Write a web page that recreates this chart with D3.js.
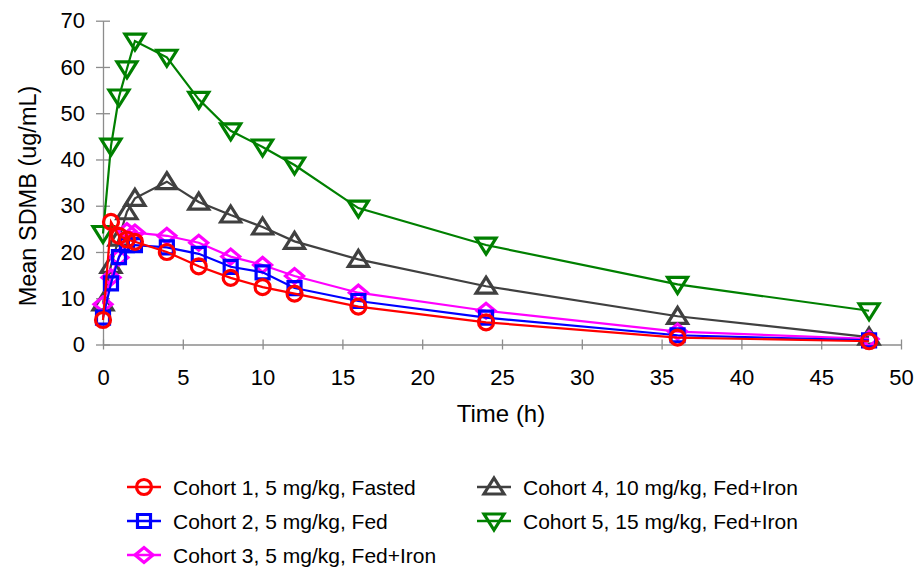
<!DOCTYPE html>
<html>
<head>
<meta charset="utf-8">
<script src="https://cdn.jsdelivr.net/npm/d3@7"></script>
<style>
  body { margin: 0; background: #fff; }
  svg { font-family: "Liberation Sans", Arial, sans-serif; }
</style>
</head>
<body>
<svg id="chart" width="921" height="576"></svg>
<script>
// sampling times (h)
const times = [0, 0.5, 1, 1.5, 2, 4, 6, 8, 10, 12, 16, 24, 36, 48];

// mean SDMB (ug/mL) per cohort
const cohort1 = [5.3, 26.5, 23.5, 22.7, 22.2, 20.0, 16.9, 14.4, 12.4, 11.0, 8.2, 4.8, 1.5, 0.7];
const cohort2 = [5.8, 13.2, 18.9, 21.5, 21.5, 21.0, 19.6, 16.8, 15.6, 12.2, 9.4, 5.8, 2.0, 0.9];
const cohort3 = [8.7, 14.5, 18.8, 24.5, 24.2, 23.5, 22.0, 19.0, 17.2, 14.8, 11.2, 7.3, 2.8, 1.2];
const cohort4 = [9.0, 17.1, 23.0, 28.7, 31.6, 35.2, 30.8, 28.0, 25.4, 22.3, 18.4, 12.6, 6.1, 1.6];
const cohort5 = [24.0, 42.9, 53.5, 59.6, 65.6, 62.1, 53.0, 46.2, 42.7, 38.8, 29.5, 21.5, 13.0, 7.3];

const seriesNames = [
  "Cohort 1, 5 mg/kg, Fasted",
  "Cohort 2, 5 mg/kg, Fed",
  "Cohort 3, 5 mg/kg, Fed+Iron",
  "Cohort 4, 10 mg/kg, Fed+Iron",
  "Cohort 5, 15 mg/kg, Fed+Iron"
];
const seriesValues = [cohort1, cohort2, cohort3, cohort4, cohort5];
const seriesColors = ["#ff0000", "#0000ff", "#ff00ff", "#404040", "#008000"];
const seriesMarks = ["circle", "square", "diamond", "triUp", "triDown"];

const xTicks = [0, 5, 10, 15, 20, 25, 30, 35, 40, 45, 50];
const yTicks = [0, 10, 20, 30, 40, 50, 60, 70];

const svg = d3.select("#chart");

const x = d3.scaleLinear().domain([0, 50]).range([103, 901]);
const y = d3.scaleLinear().domain([0, 70]).range([344.5, 20.7]);

// marker shapes, centred on 0,0
function markPath(kind) {
  switch (kind) {
    case "square":  return "M-6.5,-6.5H6.5V6.5H-6.5Z";
    case "diamond": return "M-9,0L0,-7.5L9,0L0,7.5Z";
    case "triUp":   return "M0,-9L10,7L-10,7Z";
    case "triDown": return "M0,9L10,-7L-10,-7Z";
  }
  return null;
}

function drawMark(g, kind, color, cx, cy) {
  if (kind === "circle") {
    g.append("circle")
      .attr("cx", cx).attr("cy", cy).attr("r", 7.5)
      .attr("fill", "none").attr("stroke", color).attr("stroke-width", 3.2);
  } else {
    g.append("path")
      .attr("d", markPath(kind))
      .attr("transform", "translate(" + cx + "," + cy + ")")
      .attr("fill", "none").attr("stroke", color).attr("stroke-width", 3.2)
      .attr("stroke-linejoin", "miter");
  }
}

// axes
const axisColor = "#8c8c8c";
const xAxis = d3.axisBottom(x).tickValues(xTicks).tickSizeInner(5).tickSizeOuter(0).tickPadding(20);
const yAxis = d3.axisLeft(y).tickValues(yTicks).tickSizeInner(7).tickSizeOuter(0).tickPadding(11);

const gx = svg.append("g").attr("transform", "translate(0," + y(0) + ")").call(xAxis);
const gy = svg.append("g").attr("transform", "translate(" + x(0) + ",0)").call(yAxis);

[gx, gy].forEach(g => {
  g.select(".domain").attr("stroke", axisColor).attr("stroke-width", 1.3);
  g.selectAll(".tick line").attr("stroke", axisColor).attr("stroke-width", 1.3);
  g.selectAll(".tick text").attr("fill", "#000").attr("font-size", 22)
    .attr("font-family", "Liberation Sans, Arial, sans-serif");
});
// ticks cross the axis lines
gx.selectAll(".tick line").attr("y1", -5).attr("y2", 5);
gy.selectAll(".tick line").attr("x1", -7).attr("x2", 7);

// axis titles
svg.append("text")
  .attr("x", 501).attr("y", 422)
  .attr("text-anchor", "middle").attr("font-size", 24)
  .text("Time (h)");

svg.append("text")
  .attr("transform", "translate(36,196) rotate(-90)")
  .attr("text-anchor", "middle").attr("font-size", 23.5)
  .text("Mean SDMB (ug/mL)");

// series, drawn back to front so cohort 1 sits on top
const line = d3.line().x(d => x(d[0])).y(d => y(d[1]));
for (let i = seriesValues.length - 1; i >= 0; i--) {
  const pts = times.map((t, j) => [t, seriesValues[i][j]]);
  const g = svg.append("g");
  g.append("path")
    .attr("d", line(pts))
    .attr("fill", "none").attr("stroke", seriesColors[i]).attr("stroke-width", 2.2);
  pts.forEach(p => drawMark(g, seriesMarks[i], seriesColors[i], x(p[0]), y(p[1])));
}

// legend
const legendPos = [[144, 487], [144, 521], [144, 555], [494, 487], [494, 521]];
seriesNames.forEach((name, i) => {
  const [cx, cy] = legendPos[i];
  const g = svg.append("g");
  g.append("line")
    .attr("x1", cx - 17).attr("x2", cx + 17).attr("y1", cy).attr("y2", cy)
    .attr("stroke", seriesColors[i]).attr("stroke-width", 2.5);
  drawMark(g, seriesMarks[i], seriesColors[i], cx, cy);
  g.append("text")
    .attr("x", cx + 29).attr("y", cy + 8)
    .attr("font-size", 21)
    .text(name);
});
</script>
</body>
</html>
